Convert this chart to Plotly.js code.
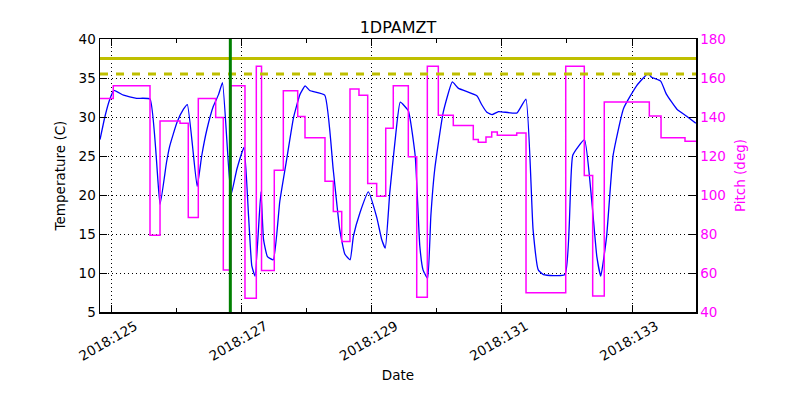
<!DOCTYPE html>
<html>
<head>
<meta charset="utf-8">
<script src="https://cdn.plot.ly/plotly-3.0.1.min.js"></script>
<style>
html,body{margin:0;padding:0;background:#fff;}
#chart{width:800px;height:400px;}
</style>
</head>
<body>
<div id="chart"></div>
<script>
// Day-of-year 2018 (fractional)
const tempTimes = [124.828,124.905,124.98,125.04,125.19,125.39,125.596,125.75,125.85,125.90,126.01,126.11,126.17,
  126.32,126.39,126.47,126.57,126.65,126.71,126.84,126.93,127.04,127.11,127.16,127.21,127.30,127.34,127.40,127.49,
  127.59,127.70,127.80,127.90,127.98,128.05,128.28,128.41,128.51,128.59,128.67,128.72,128.82,128.95,129.08,129.155,129.21,
  129.28,129.36,129.44,129.564,129.67,129.74,129.79,129.86,129.91,129.97,130.10,130.24,130.33,130.62,130.69,130.77,130.85,
  130.95,131.23,131.37,131.48,131.56,131.64,131.97,132.09,132.27,132.38,132.46,132.52,132.61,132.71,132.87,133.07,133.25,
  133.30,133.44,133.53,133.69,133.84,133.98];
const tempValues = [27.1,30.1,32.3,33.4,32.8,32.4,32.3,18.8,24.2,26.3,29.3,31.0,31.6,
  21.1,25.0,28.4,31.4,32.9,34.4,20.0,23.3,26.1,17.3,10.9,9.6,20.4,14.3,12.1,11.7,
  19.2,24.8,29.9,32.9,34.0,33.4,32.8,23.3,15.6,12.4,11.7,14.7,17.7,20.4,17.1,14.3,13.2,
  20.4,26.9,31.9,30.8,25.0,13.5,10.4,9.3,17.3,23.3,30.6,34.5,33.7,32.7,31.6,30.6,30.3,
  30.7,30.5,32.3,15.6,10.4,9.8,9.8,25.1,27.1,19.4,12.1,9.6,14.7,25.1,31.1,34.0,35.6,
  35.1,34.6,32.9,31.0,30.1,29.2];

const pitchTimes = [124.828,125.032,125.596,125.750,126.057,126.184,126.338,126.605,126.722,126.836,127.055,127.229,
  127.309,127.505,127.644,127.865,127.977,128.284,128.412,128.541,128.668,128.806,128.940,129.078,129.217,129.333,
  129.564,129.693,129.856,130.025,130.255,130.562,130.639,130.757,130.845,130.931,131.229,131.372,131.982,132.267,
  132.396,132.574,133.266,133.446,133.814,133.983];
const pitchValues = [149.5,156.0,79.3,137.9,136.8,88.5,149.5,139.7,61.6,156.0,47.0,166.0,
  61.3,112.7,153.4,140.2,129.4,107.1,91.6,76.2,154.3,151.2,105.9,99.3,134.2,156.0,
  119.6,47.6,166.0,140.9,135.7,128.5,127.1,129.7,132.3,130.6,131.8,49.9,166.0,110.0,
  48.2,147.7,140.5,129.4,127.6,127.6];

const xRange = [124.828, 133.983];
const majorTickDays = [125,127,129,131,133];
const majorTickLabels = ['2018:125','2018:127','2018:129','2018:131','2018:133'];
const minorTickDays = [126,128,130,132];
const planningLimit = [37.5];
const cautionLimit = [35.5];
const markerTime = [126.83];

const font = 'DejaVu Sans, sans-serif';
const fs = 13.5;
const magenta = '#ff00ff';

const traces = [
  {x: tempTimes, y: tempValues, type: 'scatter', mode: 'lines', yaxis: 'y',
   line: {color: '#0000ff', width: 1.3, shape: 'spline', smoothing: 0.4}, hoverinfo: 'skip'},
  {x: pitchTimes, y: pitchValues, type: 'scatter', mode: 'lines', yaxis: 'y2',
   line: {color: magenta, width: 1.5, shape: 'hv'}, hoverinfo: 'skip'}
];

const shapes = [
  {type: 'line', xref: 'paper', x0: 0, x1: 1, yref: 'y', y0: planningLimit[0], y1: planningLimit[0],
   line: {color: '#bfbf00', width: 3}},
  {type: 'line', xref: 'paper', x0: 0, x1: 1, yref: 'y', y0: cautionLimit[0], y1: cautionLimit[0],
   line: {color: '#bfbf00', width: 3, dash: '8px,8px'}},
  {type: 'line', xref: 'x', x0: markerTime[0], x1: markerTime[0], yref: 'paper', y0: 0, y1: 1,
   line: {color: '#008000', width: 3}}
];

const layout = {
  width: 800, height: 400,
  margin: {l: 100, r: 104, t: 39, b: 88},
  paper_bgcolor: '#fff', plot_bgcolor: '#fff',
  showlegend: false,
  font: {family: font, size: fs, color: '#000'},
  title: {text: '1DPAMZT', font: {family: font, size: 16, color: '#000'},
          x: 0.5, xref: 'paper', y: 0.9325, yref: 'container', yanchor: 'middle'},
  xaxis: {
    range: xRange, tickmode: 'array', tickvals: majorTickDays, ticktext: majorTickLabels,
    tickangle: -30, ticklabelshift: 24, ticks: 'inside', ticklen: 7, tickwidth: 1, tickcolor: '#000',
    showline: true, linecolor: '#000', linewidth: 1.5, mirror: 'ticks',
    showgrid: true, gridcolor: '#000', gridwidth: 1, griddash: '1px,3px',
    zeroline: false,
    minor: {tickmode: 'array', tickvals: minorTickDays, ticks: 'inside', ticklen: 4, tickcolor: '#000', showgrid: false},
    title: {text: 'Date', font: {family: font, size: fs}, standoff: 8}
  },
  yaxis: {
    range: [5, 40], dtick: 5, tick0: 5, ticks: 'inside', ticklen: 7, tickcolor: '#000',
    showline: true, linecolor: '#000', linewidth: 1.5, mirror: true,
    showgrid: true, gridcolor: '#000', gridwidth: 1, griddash: '1px,3px',
    zeroline: false,
    title: {text: 'Temperature (C)', font: {family: font, size: fs}, standoff: 10}
  },
  yaxis2: {
    range: [40, 180], dtick: 20, tick0: 40, overlaying: 'y', side: 'right',
    ticks: 'inside', ticklen: 7, tickcolor: '#000',
    tickfont: {family: font, size: fs, color: magenta},
    showline: true, linecolor: '#000', linewidth: 1.5,
    showgrid: false, zeroline: false,
    title: {text: 'Pitch (deg)', font: {family: font, size: fs, color: magenta}, standoff: 10}
  },
  shapes: shapes
};

Plotly.newPlot('chart', traces, layout, {staticPlot: true, displayModeBar: false});
</script>
</body>
</html>
